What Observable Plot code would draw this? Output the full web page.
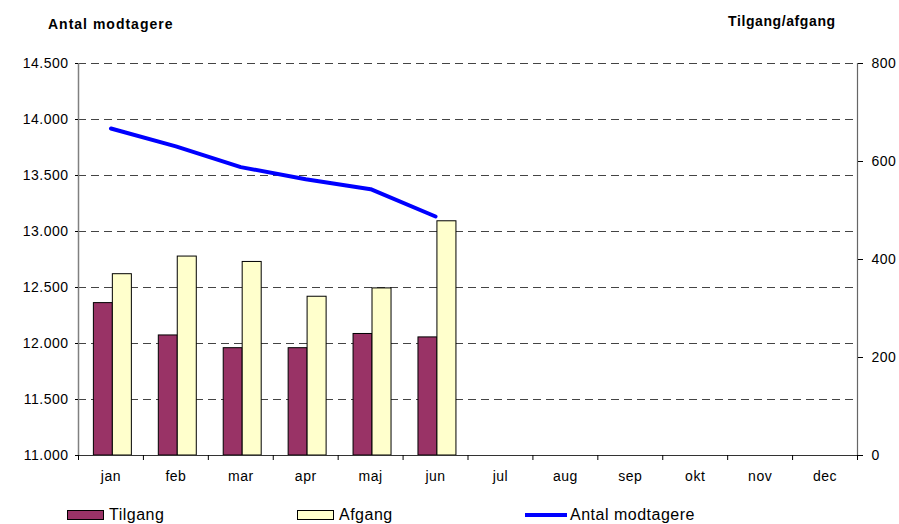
<!DOCTYPE html>
<html>
<head>
<meta charset="utf-8">
<script src="https://cdn.jsdelivr.net/npm/d3@7"></script>
<script src="https://cdn.jsdelivr.net/npm/@observablehq/plot@0.6"></script>
<style>
  body { margin: 0; background: #fff; font-family: "Liberation Sans", Arial, sans-serif; }
  #wrap { position: relative; width: 899px; height: 524px; overflow: hidden; }
  .ttl { position: absolute; font-weight: bold; font-size: 14px; color: #000; white-space: nowrap; line-height: 16px; }
  #chart { position: absolute; left: 0; top: 40px; }
  #chart svg text { letter-spacing: 0.5px; }
  #legend { position: absolute; left: 0; top: 506px; width: 899px; height: 18px; font-size: 16px; letter-spacing: 0.5px; line-height: 18px; }
  .li { position: absolute; top: 0; display: flex; align-items: center; white-space: nowrap; }
  .sw { display: inline-block; width: 35px; height: 8px; border: 1px solid #000; margin-right: 5px; }
  .ln { display: inline-block; width: 42px; height: 4px; background: #0000ff; margin-right: 3px; }
</style>
</head>
<body>
<div id="wrap">
  <div class="ttl" style="left:48px;top:16px;letter-spacing:1px;">Antal modtagere</div>
  <div class="ttl" style="left:728px;top:13px;letter-spacing:0.6px;">Tilgang/afgang</div>
  <div id="chart"></div>
  <div id="legend">
    <div class="li" style="left:67px;"><span class="sw" style="background:#993366"></span>Tilgang</div>
    <div class="li" style="left:297px;"><span class="sw" style="background:#ffffcc"></span>Afgang</div>
    <div class="li" style="left:525px;"><span class="ln"></span>Antal modtagere</div>
  </div>
</div>
<script>
// ---- data ----
const months = ["jan","feb","mar","apr","maj","jun","jul","aug","sep","okt","nov","dec"];
const tilgang = [311, 245, 219, 219, 248, 241];
const afgang  = [370, 406, 395, 324, 341, 478];
const antal   = [13920, 13760, 13575, 13467, 13378, 13134];
const leftTicks  = [11000, 11500, 12000, 12500, 13000, 13500, 14000, 14500];
const rightTicks = [0, 200, 400, 600, 800];

// ---- scales mapping (right axis 0..800 -> left axis 11000..14500) ----
const L0 = 11000, L1 = 14500, R1 = 800;
const toLeft = v => L0 + v * (L1 - L0) / R1;
const fromLeft = v => Math.round((v - L0) * R1 / (L1 - L0));
const fmt = d3.formatLocale({decimal: ",", thousands: ".", grouping: [3], currency: ["", ""]}).format(",");

const bars = [];
tilgang.forEach((v, i) => bars.push({i, s: "Tilgang", v}));
afgang.forEach((v, i) => bars.push({i, s: "Afgang", v}));
const lineData = antal.map((v, i) => ({i, v}));

// bar offsets within a month slot (fraction of slot)
const off = {Tilgang: [0.237, 0.529], Afgang: [0.529, 0.822]};

const chart = Plot.plot({
  width: 899,
  height: 455,
  marginTop: 23,
  marginBottom: 40,
  marginLeft: 78,
  marginRight: 42,
  style: {fontFamily: "Liberation Sans, Arial, sans-serif", fontSize: "14px", color: "#000", background: "#fff"},
  x: {type: "linear", domain: [0, 12]},
  y: {domain: [L0, L1]},
  marks: [
    Plot.ruleY(leftTicks.filter(d => d > L0), {y: d => d, stroke: "#444", strokeWidth: 1, strokeDasharray: "8,5"}),
    Plot.rectY(bars, {
      x1: d => d.i + off[d.s][0],
      x2: d => d.i + off[d.s][1],
      y1: L0,
      y2: d => toLeft(d.v),
      fill: d => d.s === "Tilgang" ? "#993366" : "#ffffcc",
      stroke: "#000",
      strokeWidth: 1
    }),
    Plot.line(lineData, {x: d => d.i + 0.5, y: "v", stroke: "#0000ff", strokeWidth: 4}),
    Plot.ruleX([0], {stroke: "#808080", strokeWidth: 1.5}),
    Plot.ruleX([12], {stroke: "#666", strokeWidth: 1.2}),
    Plot.ruleY([L0], {stroke: "#333", strokeWidth: 1.2}),
    Plot.axisY({ticks: leftTicks, tickFormat: fmt, tickSize: 3, tickPadding: 7, label: null, fontSize: 14}),
    Plot.axisY({anchor: "right", ticks: rightTicks.map(toLeft), tickFormat: d => String(fromLeft(d)), tickSize: 5, tickPadding: 9, label: null, fontSize: 14}),
    Plot.axisX({ticks: d3.range(13), tickFormat: () => "", tickSize: 5, label: null}),
    Plot.axisX({ticks: months.map((m, i) => i + 0.5), tickFormat: d => months[Math.floor(d)], tickSize: 0, tickPadding: 16, label: null, fontSize: 14})
  ]
});
document.getElementById("chart").appendChild(chart);
</script>
</body>
</html>
